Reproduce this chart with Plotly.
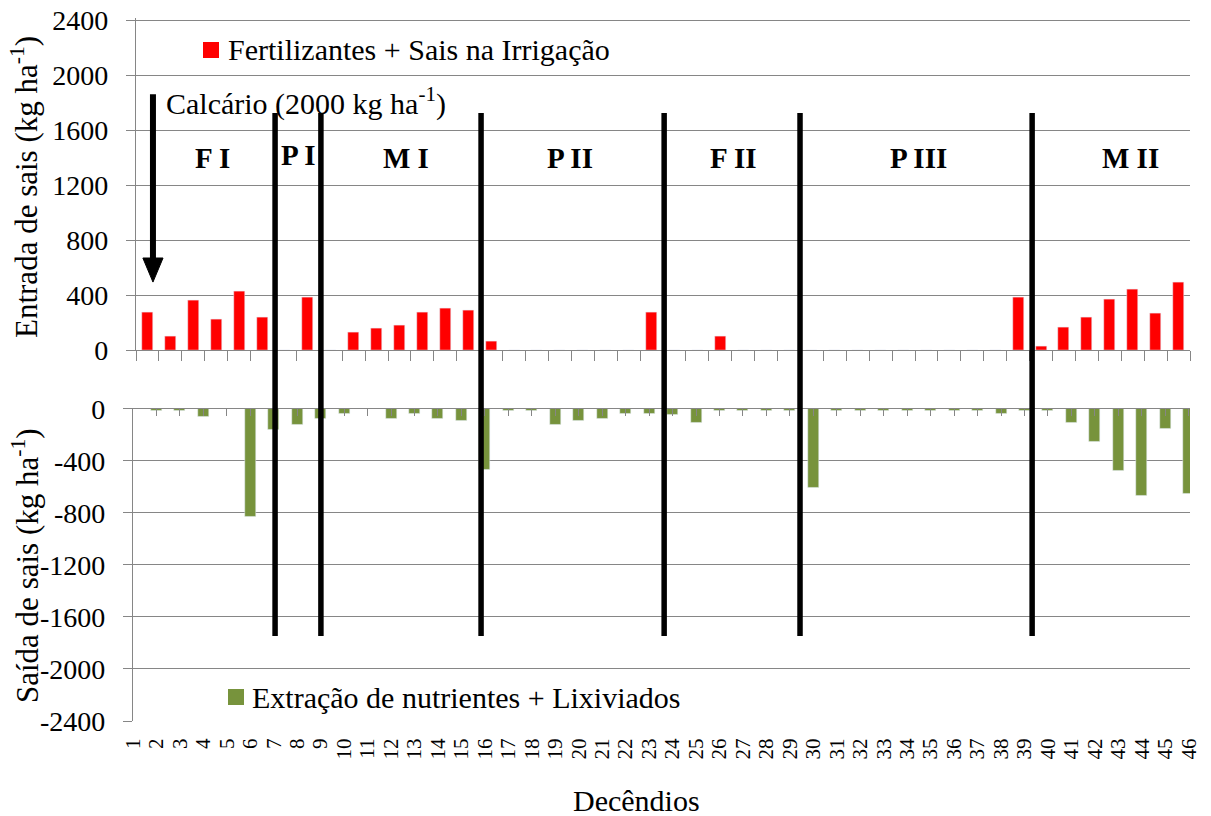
import plotly.graph_objects as go

# ---------------- data ----------------
decendios = list(range(1, 47))
entrada = [275, 100, 360, 225, 430, 235, 0, 385, 0, 130,
           155, 180, 275, 305, 290, 60, 0, 0, 0, 0,
           0, 0, 275, 0, 0, 100, 0, 0, 0, 0,
           0, 0, 0, 0, 0, 0, 0, 0, 385, 30,
           165, 235, 370, 440, 265, 495]
saida = [0, -15, -15, -60, 0, -830, -165, -120, -75, -35,
         0, -75, -35, -75, -90, -465, -15, -15, -120, -90,
         -75, -35, -35, -45, -105, -15, -15, -15, -15, -610,
         -15, -15, -15, -15, -15, -15, -15, -35, -15, -15,
         -105, -250, -480, -670, -150, -655]
yticks_top = [0, 400, 800, 1200, 1600, 2000, 2400]
yticks_bottom = [-2400, -2000, -1600, -1200, -800, -400, 0]
yticks_bottom_text = ["-2400", "-2000", "-1600", "-1200", "-800", "-400", "0"]
phase_names = ["F I", "P I", "M I", "P II", "F II", "P III", "M II"]
phase_bounds = [6.57, 8.57, 15.56, 23.55, 29.48, 39.61]
phase_label_x = [3.82, 7.6, 12.3, 19.45, 26.55, 34.65, 43.9]
phase_label_y = [1395, 1420, 1395, 1395, 1395, 1395, 1395]
calcario_x = 1.24

# ---------------- geometry helpers ----------------
# the page body adds an 8 px margin, so everything is laid out 8 px up-left
W, H = 1211, 816
L, R, T, B = 125, 29, 10, 103
PW, PH = W - L - R, H - T - B
OFF = 8


def px(x):
    """reference-picture x pixel -> paper fraction"""
    return (x - OFF - L) / PW


def py(y):
    """reference-picture y pixel -> paper fraction"""
    return (H - B - (y - OFF)) / PH


# top panel: 2400 at y=20 px, 0 at y=350 px (range padded a little so the
# 2400 grid line is not clipped at the plot edge)
TOP_2400_PX, TOP_ZERO_PX = 20, 350
top_scale = (TOP_ZERO_PX - TOP_2400_PX) / 2400
top_ymax = 2412
top_domain = [py(TOP_ZERO_PX), py(TOP_ZERO_PX - top_ymax * top_scale)]

FONT = "Liberation Serif"
GRID = "#868686"
RED = "#FF0000"
GREEN = "#77933C"

fig = go.Figure()
fig.add_trace(go.Bar(x=decendios, y=entrada, marker_color=RED, width=0.48,
                     xaxis="x", yaxis="y", showlegend=False,
                     name="Fertilizantes + Sais na Irrigação"))
fig.add_trace(go.Bar(x=decendios, y=saida, marker_color=GREEN, width=0.47,
                     xaxis="x2", yaxis="y2", showlegend=False,
                     name="Extração de nutrientes + Lixiviados"))
fig.add_trace(go.Scatter(x=[None], y=[None], xaxis="x3", yaxis="y2",
                         showlegend=False, hoverinfo="skip"))

tickfont = dict(family=FONT, size=28, color="black")

fig.update_layout(
    width=W, height=H,
    margin=dict(l=L, r=R, t=T, b=B, autoexpand=False),
    paper_bgcolor="white", plot_bgcolor="white",
    bargap=0,
    xaxis=dict(domain=[px(136), 1], range=[0.5, 46.5], anchor="y",
               automargin=False,
               showgrid=False, zeroline=False, showline=True,
               linecolor=GRID, linewidth=1.3,
               ticks="outside", tickvals=[k + 0.5 for k in range(47)],
               ticklen=10, tickcolor=GRID, tickwidth=1.3,
               showticklabels=False),
    yaxis=dict(domain=top_domain, range=[0, top_ymax], anchor="x",
               automargin=False, ticklabeloverflow="allow",
               tickvals=yticks_top, showgrid=True, gridcolor=GRID,
               gridwidth=1.3, zeroline=False, showline=True,
               linecolor=GRID, linewidth=1.3, ticks="outside", ticklen=9,
               tickcolor=GRID, tickwidth=1.3, tickfont=tickfont,
               ticklabelstandoff=12),
    xaxis2=dict(domain=[0, 1], range=[1, 1 + PW / 23.46], anchor="y2",
                automargin=False, ticklabeloverflow="allow",
                side="bottom", tickvals=decendios,
                ticktext=[str(d) for d in decendios], tickangle=-90,
                ticks="outside", ticklen=8, tickcolor="rgba(0,0,0,0)",
                showline=False, showgrid=False, zeroline=False,
                tickfont=dict(family=FONT, size=21, color="black")),
    xaxis3=dict(domain=[0, 1], range=[1, 1 + PW / 23.46], anchor="y2",
                automargin=False,
                overlaying="x2", side="top", tickvals=decendios,
                ticks="inside", ticklen=7, tickcolor=GRID, tickwidth=1.3,
                showline=True, linecolor=GRID, linewidth=1.3,
                showgrid=False, zeroline=False, showticklabels=False),
    yaxis2=dict(domain=[0, py(408.7)], range=[-2400, 0], anchor="x2",
                automargin=False, ticklabeloverflow="allow",
                tickvals=yticks_bottom, ticktext=yticks_bottom_text,
                showgrid=True, gridcolor=GRID, gridwidth=1.3,
                zeroline=False, showline=True, linecolor=GRID,
                linewidth=1.3, ticks="outside", ticklen=9, tickcolor=GRID,
                tickwidth=1.3, tickfont=tickfont, ticklabelstandoff=12),
)

shapes = []
for b in phase_bounds:
    shapes.append(dict(type="line", xref="x", yref="paper", x0=b, x1=b,
                       y0=py(636), y1=py(113),
                       line=dict(color="black", width=5.5)))
# arrow for limestone application
shapes.append(dict(type="line", xref="x", yref="y", x0=calcario_x,
                   x1=calcario_x, y0=1860, y1=669,
                   line=dict(color="black", width=6)))
shapes.append(dict(type="path", xref="x", yref="y",
                   path=f"M {calcario_x - 0.44},669 L {calcario_x + 0.44},669 "
                        f"L {calcario_x},494 Z",
                   fillcolor="black", line=dict(color="black", width=1)))
# legend keys
shapes.append(dict(type="rect", xref="paper", yref="paper",
                   x0=px(203), x1=px(219), y0=py(58), y1=py(42),
                   fillcolor=RED, line=dict(width=0)))
shapes.append(dict(type="rect", xref="paper", yref="paper",
                   x0=px(228), x1=px(244), y0=py(705), y1=py(689),
                   fillcolor=GREEN, line=dict(width=0)))

TXT = dict(family=FONT, size=30, color="black")
annotations = []
for name, xl, yl in zip(phase_names, phase_label_x, phase_label_y):
    annotations.append(dict(x=xl, y=yl, xref="x", yref="y",
                            text=f"<b>{name}</b>", showarrow=False,
                            font=dict(family=FONT, size=29, color="black")))
annotations.append(dict(x=px(164), y=py(101), xref="paper", yref="paper",
                        text="Calcário (2000 kg ha<sup>-1</sup>)",
                        xanchor="left", yanchor="middle", showarrow=False,
                        font=TXT))
annotations.append(dict(x=px(226), y=py(50), xref="paper", yref="paper",
                        text="Fertilizantes + Sais na Irrigação",
                        xanchor="left", yanchor="middle", showarrow=False,
                        font=TXT))
annotations.append(dict(x=px(250), y=py(697), xref="paper", yref="paper",
                        text="Extração de nutrientes + Lixiviados",
                        xanchor="left", yanchor="middle", showarrow=False,
                        font=TXT))
annotations.append(dict(x=px(25), y=py(187), xref="paper", yref="paper",
                        text="Entrada de sais (kg ha<sup>-1</sup>)",
                        textangle=-90, showarrow=False,
                        xanchor="center", yanchor="middle",
                        font=dict(family=FONT, size=31, color="black")))
annotations.append(dict(x=px(25), y=py(566), xref="paper", yref="paper",
                        text="Saída de sais (kg ha<sup>-1</sup>)",
                        textangle=-90, showarrow=False,
                        xanchor="center", yanchor="middle",
                        font=dict(family=FONT, size=31, color="black")))
annotations.append(dict(x=px(636), y=py(800), xref="paper", yref="paper",
                        text="Decêndios", showarrow=False,
                        xanchor="center", yanchor="middle",
                        font=TXT))

fig.update_layout(shapes=shapes, annotations=annotations)
fig.write_html("out.html")
